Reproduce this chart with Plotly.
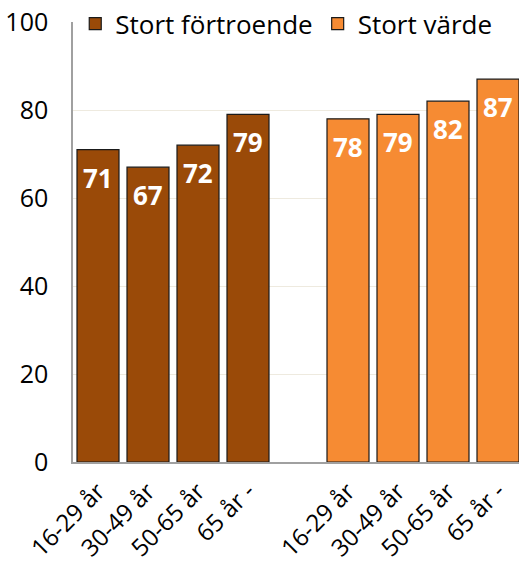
import plotly.graph_objects as go

age_groups = ["16-29 år", "30-49 år", "50-65 år", "65 år -"]
fortroende = [71, 67, 72, 79]
varde = [78, 79, 82, 87]

# two groups with an empty slot between them
x1 = list(range(len(age_groups)))
x2 = [i + len(age_groups) + 1 for i in range(len(age_groups))]

font = "Open Sans, DejaVu Sans, sans-serif"

fig = go.Figure()
fig.add_trace(go.Bar(x=x1, y=fortroende, name="Stort förtroende",
                     marker={'color': '#9A4A08', 'line': {'color': '#1a1a1a', 'width': 1.2}}))
fig.add_trace(go.Bar(x=x2, y=varde, name="Stort värde",
                     marker={'color': '#F68B33', 'line': {'color': '#1a1a1a', 'width': 1.2}}))

annotations = []
for xs, ys in ((x1, fortroende), (x2, varde)):
    for x, y in zip(xs, ys):
        annotations.append(dict(x=x, y=y, text=f"<b>{y}</b>", showarrow=False,
                                yanchor="top", yshift=-8,
                                font={'color': 'white', 'size': 26, 'family': font}))

fig.update_layout(
    width=523, height=562,
    margin={'l': 73, 'r': 0, 't': 22, 'b': 100},
    plot_bgcolor='white', paper_bgcolor='white',
    barmode='overlay', bargap=0.16,
    font={'family': font, 'size': 24, 'color': 'black'},
    showlegend=True,
    legend={'orientation': 'h', 'x': 0.005, 'y': 0.996, 'xanchor': 'left', 'yanchor': 'middle',
            'bgcolor': 'rgba(0,0,0,0)', 'font': {'size': 26}, 'itemwidth': 30},
    annotations=annotations,
    xaxis={'range': [-0.5, 8.5], 'tickvals': x1 + x2, 'ticktext': age_groups + age_groups,
           'tickangle': -45, 'showgrid': False, 'showline': True, 'linecolor': '#a0a0a0',
           'linewidth': 1.5, 'ticks': '', 'ticklabelstandoff': 4, 'automargin': False,
           'tickfont': {'size': 24}},
    yaxis={'range': [0, 100], 'tickvals': [0, 20, 40, 60, 80, 100], 'showgrid': True,
           'gridcolor': '#EEEADF', 'showline': True, 'linecolor': '#a0a0a0', 'linewidth': 1.5,
           'zeroline': False, 'ticks': '', 'ticklen': 0, 'ticklabelstandoff': 18,
           'automargin': False, 'tickfont': {'size': 25}},
)

fig.write_html("out.html", config={'displayModeBar': False},
               post_script="document.body.style.margin='0';")
